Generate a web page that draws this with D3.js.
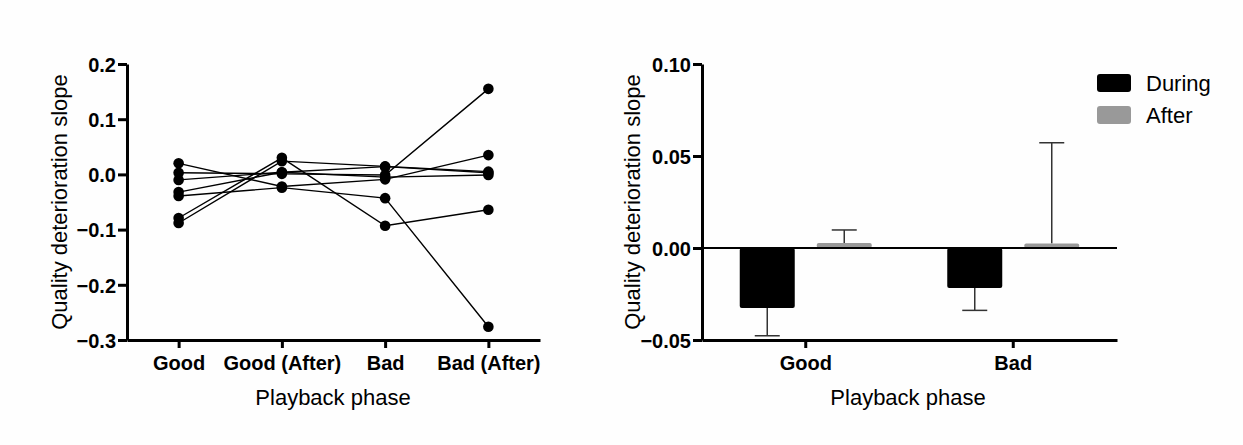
<!DOCTYPE html>
<html>
<head>
<meta charset="utf-8">
<script src="https://cdnjs.cloudflare.com/ajax/libs/d3/7.8.5/d3.min.js"></script>
<style>
  body { margin: 0; background: #fff; }
  svg { font-family: "Liberation Sans", Arial, sans-serif; }
  .tick text { font-weight: bold; font-size: 20px; fill: #000; }
  .axis path, .axis line { stroke: #000; }
</style>
</head>
<body>
<div id="cont"></div>
<script>

// left panel: one line per participant over the four phases
var phases = ["Good", "Good (After)", "Bad", "Bad (After)"];
var subj1 = [0.020, -0.022, -0.009, 0.035];
var subj2 = [-0.039, -0.024, -0.043, -0.276];
var subj3 = [0.003, 0.001, -0.001, 0.155];
var subj4 = [-0.010, 0.004, 0.014, 0.003];
var subj5 = [-0.079, 0.030, -0.093, -0.064];
var subj6 = [-0.088, 0.024, 0.0145, 0.005];
var subj7 = [-0.032, 0.004, -0.005, -0.001];
var subjects = [subj1, subj2, subj3, subj4, subj5, subj6, subj7];
var leftTicks = [-0.3, -0.2, -0.1, 0.0, 0.1, 0.2];

// right panel: mean slopes with one-sided error bars
var groups = ["Good", "Bad"];
var conditions = ["During", "After"];
var duringMean = [-0.0326, -0.0217];
var duringErr = [0.0151, 0.0122];
var afterMean = [0.0027, 0.0025];
var afterErr = [0.0071, 0.0547];
var rightTicks = [-0.05, 0.00, 0.05, 0.10];

var W = 1243, H = 445;

var svg = d3.select("#cont").append("svg")
    .attr("width", W)
    .attr("height", H);

svg.append("rect").attr("width", W).attr("height", H).attr("fill", "#fefefe");

// ---------- left chart ----------
var lx = d3.scalePoint().domain(phases).range([127, 540]).padding(0.5);
var ly = d3.scaleLinear().domain([-0.3, 0.2]).range([340, 64]);

var left = svg.append("g");

var line = d3.line()
    .x(function(d, i) { return lx(phases[i]); })
    .y(function(d) { return ly(d); });

left.selectAll(".subj")
    .data(subjects)
  .enter().append("path")
    .attr("class", "subj")
    .attr("d", line)
    .attr("fill", "none")
    .attr("stroke", "#000")
    .attr("stroke-width", 1.4);

subjects.forEach(function(s) {
  left.selectAll(null)
      .data(s)
    .enter().append("circle")
      .attr("cx", function(d, i) { return lx(phases[i]); })
      .attr("cy", function(d) { return ly(d); })
      .attr("r", 5.3)
      .attr("fill", "#000");
});

left.append("g")
    .attr("class", "axis")
    .attr("transform", "translate(0,340)")
    .call(d3.axisBottom(lx).tickSize(8).tickSizeOuter(0).tickPadding(8))
    .call(function(g) {
      g.select(".domain").attr("stroke-width", 3);
      g.selectAll(".tick line").attr("stroke-width", 3);
    });

left.append("g")
    .attr("class", "axis")
    .attr("transform", "translate(127,0)")
    .call(d3.axisLeft(ly).tickValues(leftTicks).tickFormat(d3.format(".1f"))
      .tickSize(9).tickSizeOuter(0).tickPadding(2))
    .call(function(g) {
      g.select(".domain").attr("stroke-width", 3);
      g.selectAll(".tick line").attr("stroke-width", 3);
      g.selectAll(".tick text").attr("dy", "0.36em");
    });

left.append("text")
    .attr("x", 333).attr("y", 405)
    .attr("text-anchor", "middle")
    .attr("font-size", 22)
    .text("Playback phase");

left.append("text")
    .attr("transform", "translate(67,202) rotate(-90)")
    .attr("text-anchor", "middle")
    .attr("font-size", 22)
    .text("Quality deterioration slope");

// ---------- right chart ----------
var rx0 = d3.scaleBand().domain(groups).range([702, 1117]);
var rx1 = d3.scaleBand().domain(conditions).range([-66, 66]).paddingInner(0.2857);
var ry = d3.scaleLinear().domain([-0.05, 0.10]).range([340, 64]);

var right = svg.append("g");

var barData = [];
groups.forEach(function(g, i) {
  barData.push({group: g, cond: "During", v: duringMean[i], e: duringErr[i]});
  barData.push({group: g, cond: "After", v: afterMean[i], e: afterErr[i]});
});
var colour = {During: "#000", After: "#999"};

function barX(d) { return rx0(d.group) + rx0.bandwidth() / 2 + rx1(d.cond); }
function barMid(d) { return barX(d) + rx1.bandwidth() / 2; }
function errEnd(d) { return ry(d.v + (d.v < 0 ? -d.e : d.e)); }

// error bars (one-sided, away from zero)
right.selectAll(".err")
    .data(barData)
  .enter().append("line")
    .attr("x1", barMid).attr("x2", barMid)
    .attr("y1", function(d) { return ry(d.v); })
    .attr("y2", errEnd)
    .attr("stroke", "#333").attr("stroke-width", 1.5);

right.selectAll(".cap")
    .data(barData)
  .enter().append("line")
    .attr("x1", function(d) { return barMid(d) - 12.5; })
    .attr("x2", function(d) { return barMid(d) + 12.5; })
    .attr("y1", errEnd)
    .attr("y2", errEnd)
    .attr("stroke", "#333").attr("stroke-width", 1.5);

right.selectAll(".bar")
    .data(barData)
  .enter().append("rect")
    .attr("x", barX)
    .attr("width", rx1.bandwidth())
    .attr("y", function(d) { return Math.min(ry(d.v), ry(0)); })
    .attr("height", function(d) { return Math.abs(ry(d.v) - ry(0)); })
    .attr("rx", 2)
    .attr("fill", function(d) { return colour[d.cond]; });

// zero line
right.append("line")
    .attr("x1", 702).attr("x2", 1117)
    .attr("y1", ry(0)).attr("y2", ry(0))
    .attr("stroke", "#000").attr("stroke-width", 2);

right.append("g")
    .attr("class", "axis")
    .attr("transform", "translate(0,340)")
    .call(d3.axisBottom(rx0).tickSize(8).tickSizeOuter(0).tickPadding(8))
    .call(function(g) {
      g.select(".domain").attr("stroke-width", 3);
      g.selectAll(".tick line").attr("stroke-width", 3);
    });

right.append("g")
    .attr("class", "axis")
    .attr("transform", "translate(702,0)")
    .call(d3.axisLeft(ry).tickValues(rightTicks).tickFormat(d3.format(".2f"))
      .tickSize(9).tickSizeOuter(0).tickPadding(2))
    .call(function(g) {
      g.select(".domain").attr("stroke-width", 3);
      g.selectAll(".tick line").attr("stroke-width", 3);
      g.selectAll(".tick text").attr("dy", "0.36em");
    });

right.append("text")
    .attr("x", 908).attr("y", 405)
    .attr("text-anchor", "middle")
    .attr("font-size", 22)
    .text("Playback phase");

right.append("text")
    .attr("transform", "translate(640,202) rotate(-90)")
    .attr("text-anchor", "middle")
    .attr("font-size", 22)
    .text("Quality deterioration slope");

// legend
var legend = right.selectAll(".legend")
    .data(conditions)
  .enter().append("g")
    .attr("transform", function(d, i) { return "translate(1097," + (74 + i * 32) + ")"; });

legend.append("rect")
    .attr("width", 34).attr("height", 18).attr("rx", 3)
    .attr("fill", function(d) { return colour[d]; });

legend.append("text")
    .attr("x", 49).attr("y", 17)
    .attr("font-size", 22)
    .text(function(d) { return d; });

</script>
</body>
</html>
